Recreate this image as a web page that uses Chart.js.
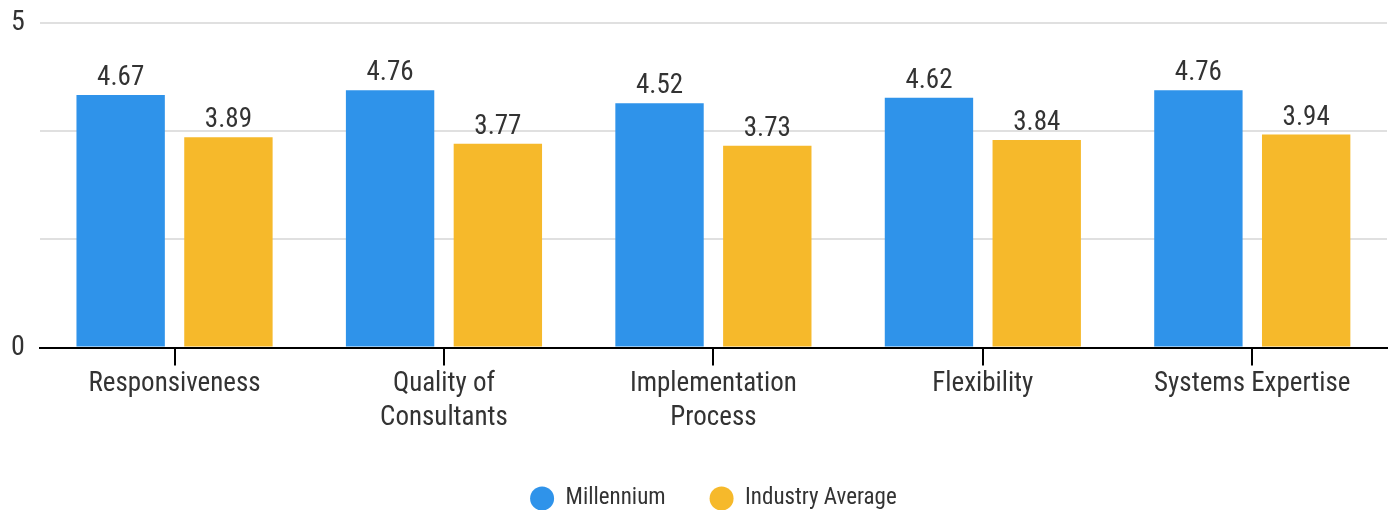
<!DOCTYPE html>
<html>
<head>
<meta charset="utf-8">
<script src="https://cdn.jsdelivr.net/npm/chart.js@4"></script>
<style>
  html, body { margin: 0; padding: 0; background: #fff; }
  #wrap { width: 1388px; height: 510px; }
</style>
</head>
<body>
<div id="wrap"><canvas id="chart"></canvas></div>
<script>
const categories = [
    'Responsiveness',
    ['Quality of', 'Consultants'],
    ['Implementation', 'Process'],
    'Flexibility',
    'Systems Expertise',
];
const millennium = [4.67, 4.76, 4.52, 4.62, 4.76];
const industryAverage = [3.89, 3.77, 3.73, 3.84, 3.94];
// labels shown on the y gridlines, bottom to top (as printed on the original)
const yTickLabels = ['0', '', '', '5'];

const FONT = '"Roboto Condensed", Roboto, sans-serif';
const TEXT = '#333333';

// values above each bar
const valueLabels = {
    id: 'valueLabels',
    afterDatasetsDraw(chart) {
        const ctx = chart.ctx;
        ctx.save();
        ctx.font = '27px ' + FONT;
        ctx.fillStyle = TEXT;
        ctx.textAlign = 'center';
        ctx.textBaseline = 'bottom';
        chart.data.datasets.forEach((ds, i) => {
            chart.getDatasetMeta(i).data.forEach((bar, j) => {
                ctx.fillText(ds.data[j].toFixed(2), bar.x, bar.y - 3);
            });
        });
        ctx.restore();
    }
};

// centre the legend under the plot area and drop it a little
const legendShift = {
    id: 'legendShift',
    afterLayout(chart) {
        const legend = chart.legend;
        legend.left = chart.chartArea.left;
        legend.top += 6;
    }
};

new Chart(document.getElementById('chart'), {
    type: 'bar',
    data: {
        labels: categories,
        datasets: [
            {
                label: 'Millennium',
                data: millennium,
                backgroundColor: '#2F93EA',
                categoryPercentage: 0.8,
                barPercentage: 0.82,
            },
            {
                label: 'Industry Average',
                data: industryAverage,
                backgroundColor: '#F6B92B',
                categoryPercentage: 0.8,
                barPercentage: 0.82,
            },
        ],
    },
    options: {
        responsive: true,
        maintainAspectRatio: false,
        animation: false,
        layout: {
            padding: { top: 0, right: 1, left: -4, bottom: 0 },
        },
        plugins: {
            legend: {
                position: 'bottom',
                maxHeight: 73,
                labels: {
                    usePointStyle: true,
                    pointStyle: 'circle',
                    boxWidth: 24,
                    boxHeight: 17,
                    pointStyleWidth: 24,
                    padding: 44,
                    color: TEXT,
                    font: { family: FONT, size: 23 },
                },
            },
            tooltip: { enabled: false },
        },
        scales: {
            x: {
                border: { color: '#000', width: 2 },
                grid: {
                    offset: false,
                    drawOnChartArea: false,
                    color: '#000',
                    lineWidth: 2,
                    tickLength: 18,
                },
                ticks: {
                    color: TEXT,
                    font: { family: FONT, size: 27, lineHeight: 1.25 },
                    padding: 2,
                    maxRotation: 0,
                    autoSkip: false,
                },
            },
            y: {
                min: 0,
                max: 6,
                border: { display: false },
                grid: {
                    color: '#e0e0e0',
                    lineWidth: 2,
                    drawTicks: false,
                },
                ticks: {
                    stepSize: 2,
                    padding: 15,
                    color: TEXT,
                    font: { family: FONT, size: 28, lineHeight: 0.58 },
                    callback: function(value, index) {
                        return yTickLabels[index];
                    },
                },
            },
        },
    },
    plugins: [valueLabels, legendShift],
});
</script>
</body>
</html>
